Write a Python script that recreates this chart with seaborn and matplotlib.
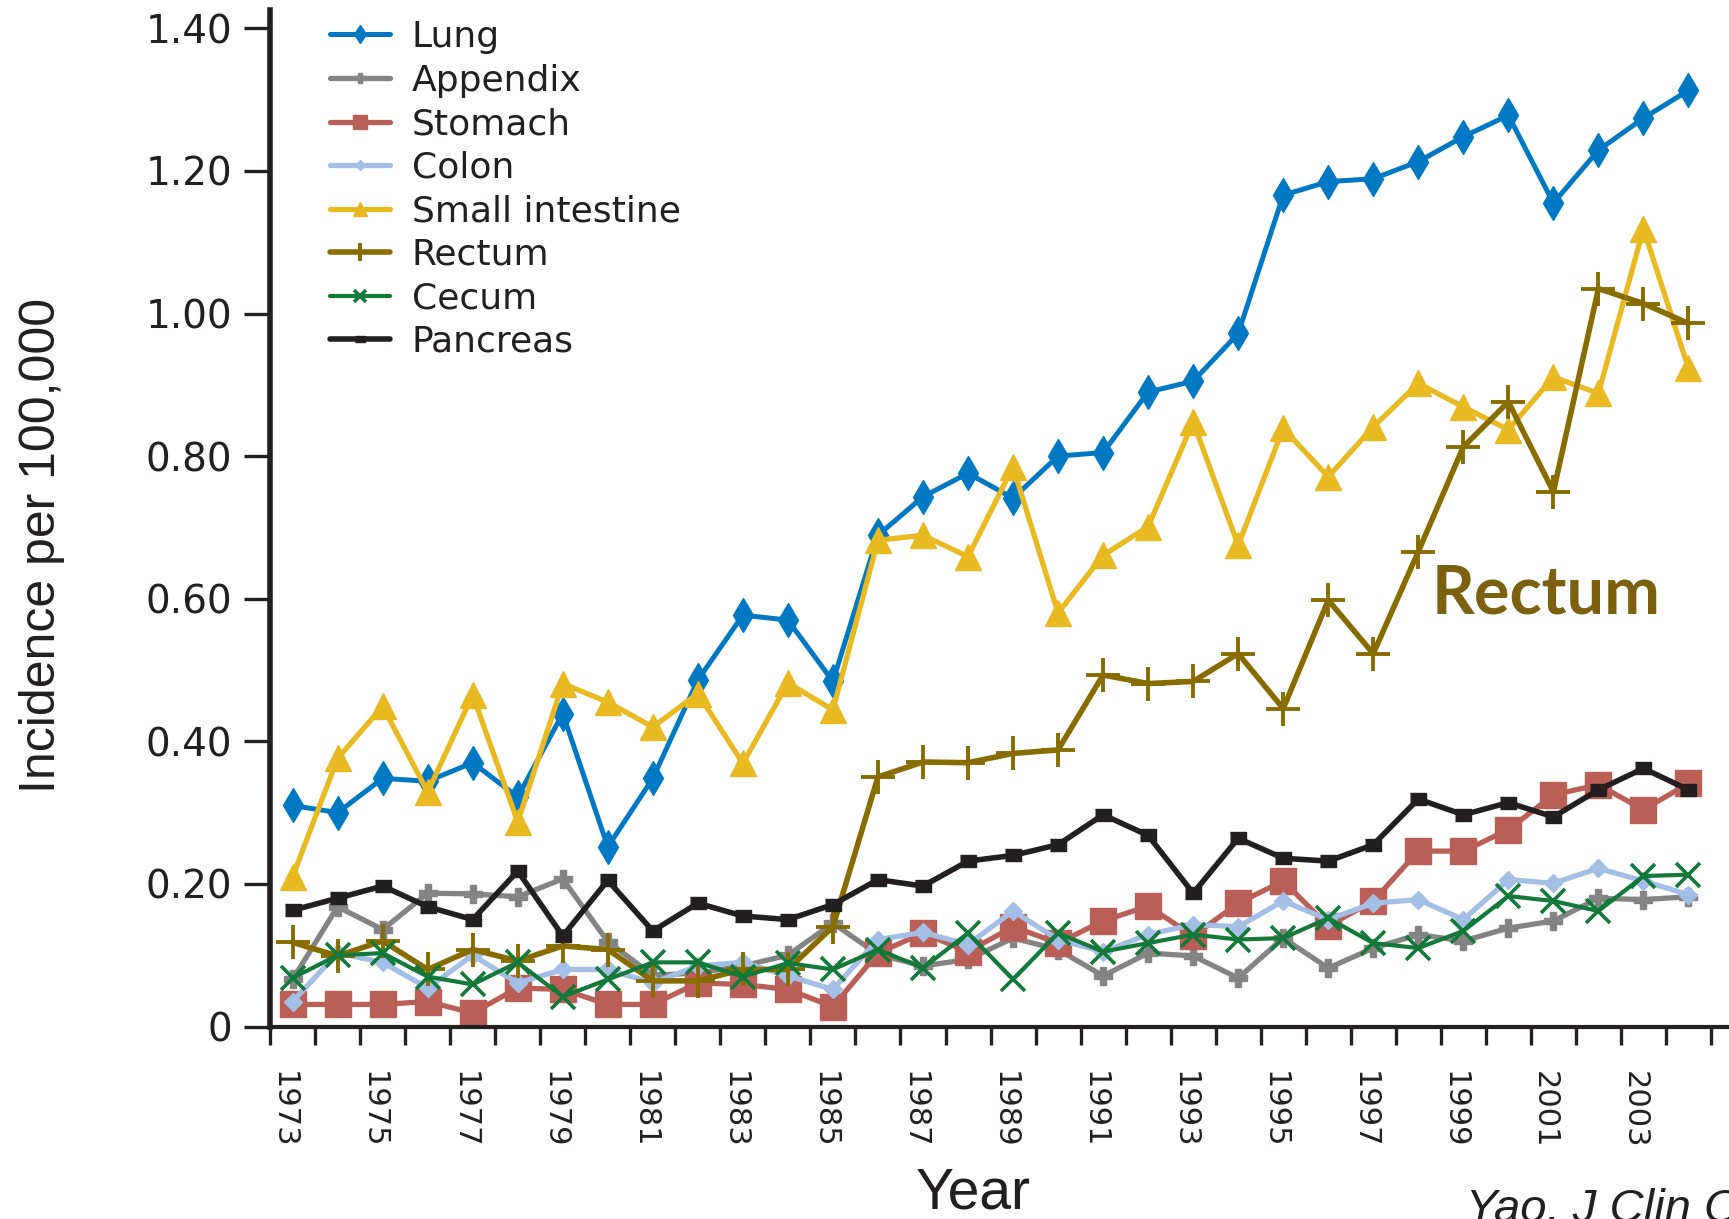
import numpy as np
import matplotlib
matplotlib.use("Agg")
import matplotlib.pyplot as plt
from matplotlib.transforms import ScaledTranslation
import seaborn as sns

# incidence per 100,000, 1973-2004
years = list(range(1973, 2005))

lung = [0.31, 0.30, 0.348, 0.344, 0.37, 0.322, 0.439, 0.252, 0.348, 0.486, 0.577, 0.570,
        0.484, 0.689, 0.743, 0.776, 0.741, 0.80, 0.805, 0.89, 0.905, 0.972, 1.166, 1.185,
        1.189, 1.213, 1.248, 1.278, 1.155, 1.229, 1.274, 1.313]
appendix = [0.066, 0.168, 0.136, 0.187, 0.186, 0.182, 0.207, 0.119, 0.072, 0.075, 0.085, 0.10,
            0.145, 0.101, 0.085, 0.094, 0.124, 0.108, 0.071, 0.103, 0.099, 0.068, 0.124, 0.082,
            0.11, 0.129, 0.12, 0.138, 0.148, 0.18, 0.178, 0.182]
stomach = [0.031, 0.031, 0.031, 0.035, 0.019, 0.054, 0.052, 0.031, 0.031, 0.061, 0.059, 0.052,
           0.028, 0.103, 0.131, 0.105, 0.14, 0.117, 0.148, 0.169, 0.127, 0.173, 0.204, 0.141,
           0.176, 0.246, 0.246, 0.276, 0.325, 0.339, 0.304, 0.341]
colon = [0.035, 0.103, 0.09, 0.054, 0.10, 0.061, 0.08, 0.08, 0.061, 0.085, 0.09, 0.071,
         0.052, 0.122, 0.132, 0.115, 0.162, 0.122, 0.105, 0.129, 0.143, 0.14, 0.176, 0.15,
         0.173, 0.178, 0.15, 0.206, 0.201, 0.222, 0.204, 0.185]
small_intestine = [0.21, 0.376, 0.449, 0.329, 0.465, 0.287, 0.481, 0.455, 0.42, 0.467, 0.369, 0.482,
                   0.444, 0.682, 0.689, 0.659, 0.785, 0.58, 0.661, 0.701, 0.848, 0.675, 0.839, 0.771,
                   0.841, 0.902, 0.869, 0.837, 0.911, 0.888, 1.119, 0.923]
rectum = [0.118, 0.099, 0.12, 0.08, 0.108, 0.092, 0.113, 0.108, 0.064, 0.064, 0.08, 0.08,
          0.14, 0.35, 0.371, 0.37, 0.383, 0.388, 0.493, 0.481, 0.484, 0.523, 0.446, 0.598,
          0.523, 0.666, 0.813, 0.876, 0.75, 1.035, 1.014, 0.986]
cecum = [0.068, 0.10, 0.103, 0.07, 0.059, 0.09, 0.042, 0.066, 0.09, 0.09, 0.07, 0.089,
         0.08, 0.108, 0.082, 0.131, 0.066, 0.131, 0.105, 0.117, 0.129, 0.122, 0.124, 0.152,
         0.117, 0.11, 0.134, 0.183, 0.176, 0.162, 0.211, 0.213]
pancreas = [0.163, 0.18, 0.197, 0.168, 0.15, 0.218, 0.127, 0.205, 0.134, 0.173, 0.155, 0.15,
            0.171, 0.206, 0.197, 0.232, 0.24, 0.255, 0.297, 0.268, 0.187, 0.264, 0.236, 0.232,
            0.255, 0.319, 0.297, 0.314, 0.294, 0.332, 0.362, 0.332]

ytick_vals = [0, 0.2, 0.4, 0.6, 0.8, 1.0, 1.2, 1.4]
ytick_labels = ["0", "0.20", "0.40", "0.60", "0.80", "1.00", "1.20", "1.40"]

sns.set_theme(style="ticks")
plt.rcParams["font.family"] = ["DejaVu Sans"]

ink = "#231f20"
rect_marker = [(-1, -0.7), (1, -0.7), (1, 0.7), (-1, 0.7)]

# name, values, colour, marker, marker size, line width, marker edge width
series = [
    ("Lung", lung, "#0079c2", "d", 17, 3.6, 1),
    ("Appendix", appendix, "#848484", "P", 13, 3.8, 1),
    ("Stomach", stomach, "#b95f57", "s", 19, 3.8, 1),
    ("Colon", colon, "#a3bfe6", "D", 9, 3.8, 1),
    ("Small intestine", small_intestine, "#e9b922", "^", 19, 3.8, 1),
    ("Rectum", rectum, "#876c00", "+", 24, 4.0, 2.8),
    ("Cecum", cecum, "#12793a", "x", 17, 3.0, 2.6),
    ("Pancreas", pancreas, ink, rect_marker, 12, 4.0, 1),
]

fig = plt.figure(figsize=(17.29, 12.19), dpi=100)
ax = fig.add_axes([0.1562, 0.1579, 0.8438, 0.8335])

for name, vals, color, marker, ms, lw, mew in series:
    sns.lineplot(x=years, y=vals, ax=ax, color=color, marker=marker,
                 markersize=ms, linewidth=lw, markeredgecolor=color,
                 markeredgewidth=mew, label=name)

ax.set_xlim(1972.5, 2004.9)
ax.set_ylim(0, 1.425)

ax.set_xticks(years[::2])
ax.set_xticklabels([str(y) for y in years[::2]], rotation=270)
ax.set_xticks(np.arange(1972.5, 2005, 1), minor=True)
ax.tick_params(axis="x", which="major", length=0, pad=32, labelsize=22, labelcolor=ink)
ax.tick_params(axis="x", which="minor", length=13, width=2.4, color=ink, direction="out")
shift = ScaledTranslation(-0.09, 0, fig.dpi_scale_trans)
for lab in ax.get_xticklabels():
    lab.set_transform(lab.get_transform() + shift)

ax.set_yticks(ytick_vals)
ax.set_yticklabels(ytick_labels)
ax.tick_params(axis="y", length=19, width=2.4, pad=8, labelsize=28, color=ink,
               labelcolor=ink, direction="out")

for side in ["top", "right"]:
    ax.spines[side].set_visible(False)
ax.spines["left"].set_linewidth(4)
ax.spines["bottom"].set_linewidth(3)
ax.spines["left"].set_color(ink)
ax.spines["bottom"].set_color(ink)

ax.set_ylabel("Incidence per 100,000", fontsize=36, family=["Liberation Sans"],
              color=ink, va="center")
ax.yaxis.set_label_coords(-0.156, 0.473)
ax.set_xlabel("Year", fontsize=41, family=["Liberation Sans"], color=ink, va="center")
ax.xaxis.set_label_coords(0.482, -0.164)

leg = ax.legend(loc="upper left", bbox_to_anchor=(330 / 1729, 1 - 20 / 1219),
                bbox_transform=fig.transFigure, frameon=False, fontsize=26,
                handlelength=1.66, handletextpad=0.61, labelspacing=0.265,
                borderpad=0, borderaxespad=0, markerscale=0.55)
for t in leg.get_texts():
    t.set_color(ink)

ax.text(1998.29, 0.5795, "Rectum", fontsize=48, fontweight="bold",
        family=["Lato", "DejaVu Sans"], color="#7a600f", ha="left", va="baseline")

fig.text(1466 / 1729, 1 - 1188 / 1219, "Yao, J Clin Oncol", fontsize=34,
         style="italic", family=["Liberation Sans"], color=ink, ha="left", va="top")

fig.savefig("out.png", dpi=100)
